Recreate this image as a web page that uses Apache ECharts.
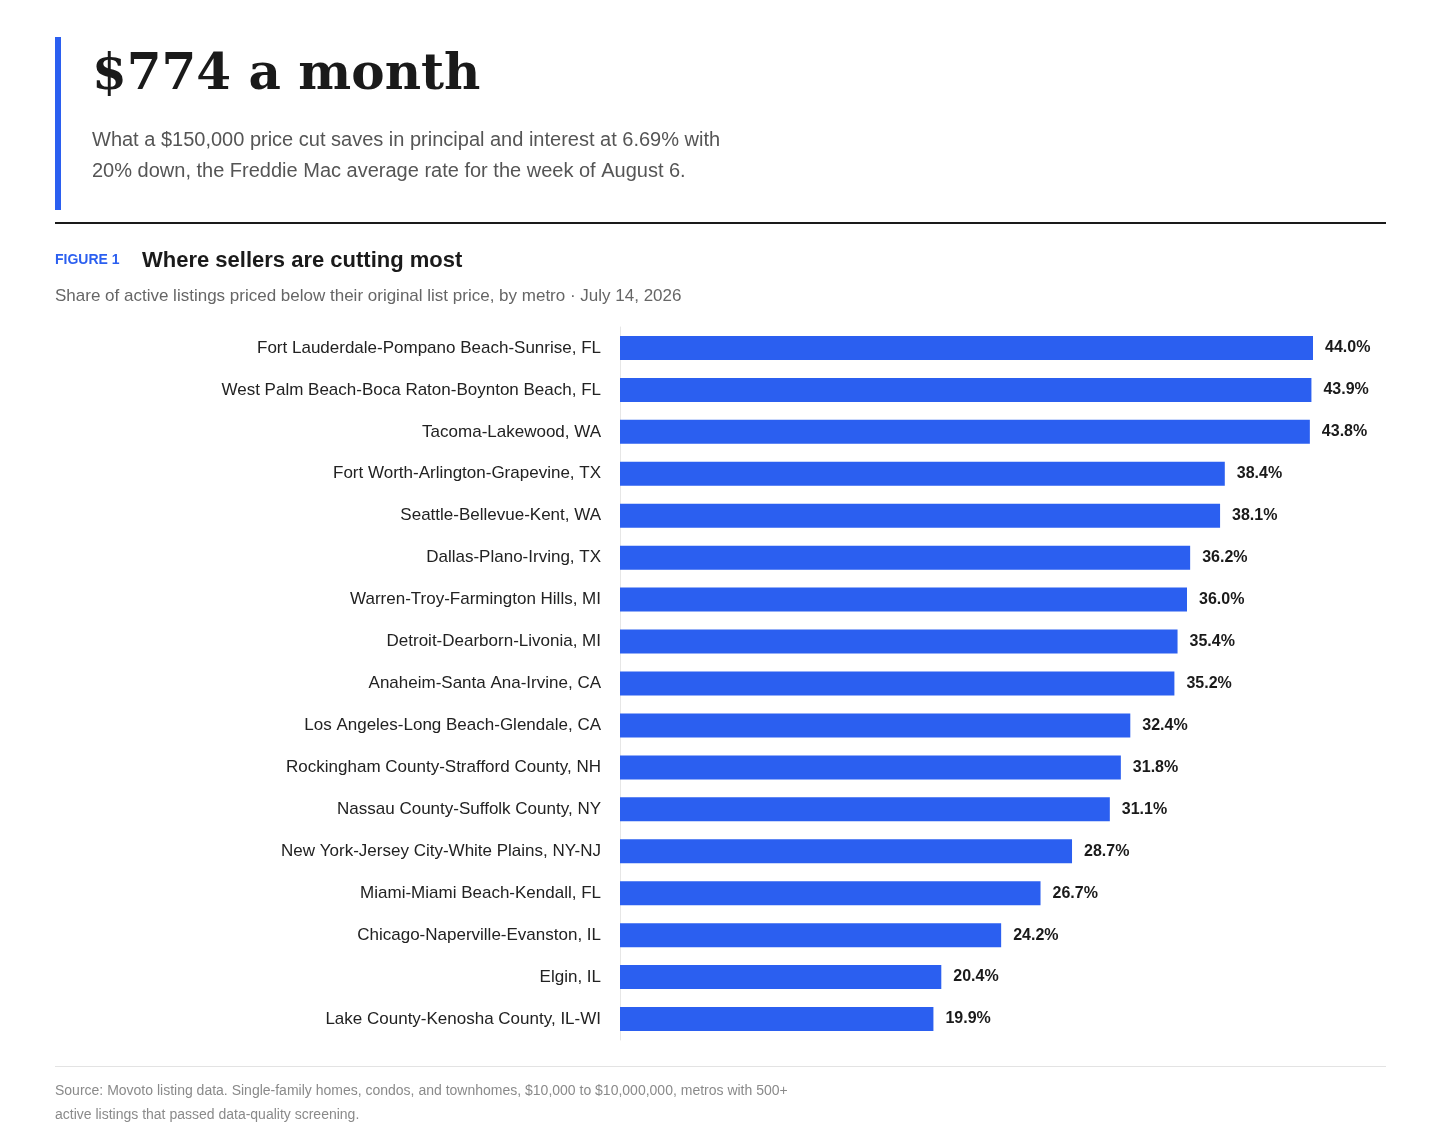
<!DOCTYPE html>
<html>
<head>
<meta charset="utf-8">
<script src="https://cdn.jsdelivr.net/npm/echarts@6/dist/echarts.min.js"></script>
<style>html,body{margin:0;padding:0;background:#fff}#c{width:1440px;height:1148px}</style>
</head>
<body>
<div id="c"></div>
<script>
var chart = echarts.init(document.getElementById('c'));

var metros = [
    'Fort Lauderdale-Pompano Beach-Sunrise, FL',
    'West Palm Beach-Boca Raton-Boynton Beach, FL',
    'Tacoma-Lakewood, WA',
    'Fort Worth-Arlington-Grapevine, TX',
    'Seattle-Bellevue-Kent, WA',
    'Dallas-Plano-Irving, TX',
    'Warren-Troy-Farmington Hills, MI',
    'Detroit-Dearborn-Livonia, MI',
    'Anaheim-Santa Ana-Irvine, CA',
    'Los Angeles-Long Beach-Glendale, CA',
    'Rockingham County-Strafford County, NH',
    'Nassau County-Suffolk County, NY',
    'New York-Jersey City-White Plains, NY-NJ',
    'Miami-Miami Beach-Kendall, FL',
    'Chicago-Naperville-Evanston, IL',
    'Elgin, IL',
    'Lake County-Kenosha County, IL-WI'
];
var shares = [44.0, 43.9, 43.8, 38.4, 38.1, 36.2, 36.0, 35.4, 35.2, 32.4, 31.8, 31.1, 28.7, 26.7, 24.2, 20.4, 19.9];

var font = 'Liberation Sans, Arial, sans-serif';

var option = {
    animation: false,
    grid: { left: 620, top: 327, width: 693, height: 713 },
    xAxis: {
        type: 'value', min: 0, max: 44,
        show: false
    },
    yAxis: {
        type: 'category',
        data: metros,
        inverse: true,
        axisLine: { show: true, lineStyle: { color: '#e6e6e6', width: 1 } },
        axisTick: { show: false },
        axisLabel: { color: '#222', fontSize: 17, fontFamily: font, margin: 19 }
    },
    series: [{
        type: 'bar',
        data: shares,
        barWidth: 24,
        itemStyle: { color: '#2b5ff0' },
        label: {
            show: true, position: 'right', distance: 12,
            color: '#1a1a1a', fontSize: 16, fontWeight: 'bold', fontFamily: font,
            formatter: function (p) { return p.value.toFixed(1) + '%'; }
        }
    }],
    graphic: [
        { type: 'rect', shape: { x: 55, y: 37, width: 6, height: 173 }, style: { fill: '#2b5ff0' } },
        { type: 'text', x: 92, y: 76, style: { text: '$774 a month', font: 'bold 50px "DejaVu Serif", serif', fill: '#1a1a1a', textVerticalAlign: 'middle' } },
        { type: 'text', x: 92, y: 140, style: { text: 'What a $150,000 price cut saves in principal and interest at 6.69% with', font: '20px ' + font, fill: '#555', textVerticalAlign: 'middle' } },
        { type: 'text', x: 92, y: 171, style: { text: '20% down, the Freddie Mac average rate for the week of August 6.', font: '20px ' + font, fill: '#555', textVerticalAlign: 'middle' } },
        { type: 'rect', shape: { x: 55, y: 222, width: 1331, height: 2 }, style: { fill: '#1a1a1a' } },
        { type: 'text', x: 55, y: 260, style: { text: 'FIGURE 1', font: 'bold 14px ' + font, fill: '#2b5ff0', textVerticalAlign: 'middle' } },
        { type: 'text', x: 142, y: 261, style: { text: 'Where sellers are cutting most', font: 'bold 22px ' + font, fill: '#1a1a1a', textVerticalAlign: 'middle' } },
        { type: 'text', x: 55, y: 296, style: { text: 'Share of active listings priced below their original list price, by metro \u00b7 July 14, 2026', font: '17px ' + font, fill: '#666', textVerticalAlign: 'middle' } },
        { type: 'rect', shape: { x: 55, y: 1066, width: 1331, height: 1 }, style: { fill: '#e3e3e3' } },
        { type: 'text', x: 55, y: 1091, style: { text: 'Source: Movoto listing data. Single-family homes, condos, and townhomes, $10,000 to $10,000,000, metros with 500+', font: '14px ' + font, fill: '#8a8a8a', textVerticalAlign: 'middle' } },
        { type: 'text', x: 55, y: 1115, style: { text: 'active listings that passed data-quality screening.', font: '14px ' + font, fill: '#8a8a8a', textVerticalAlign: 'middle' } }
    ]
};

chart.setOption(option);
</script>
</body>
</html>
